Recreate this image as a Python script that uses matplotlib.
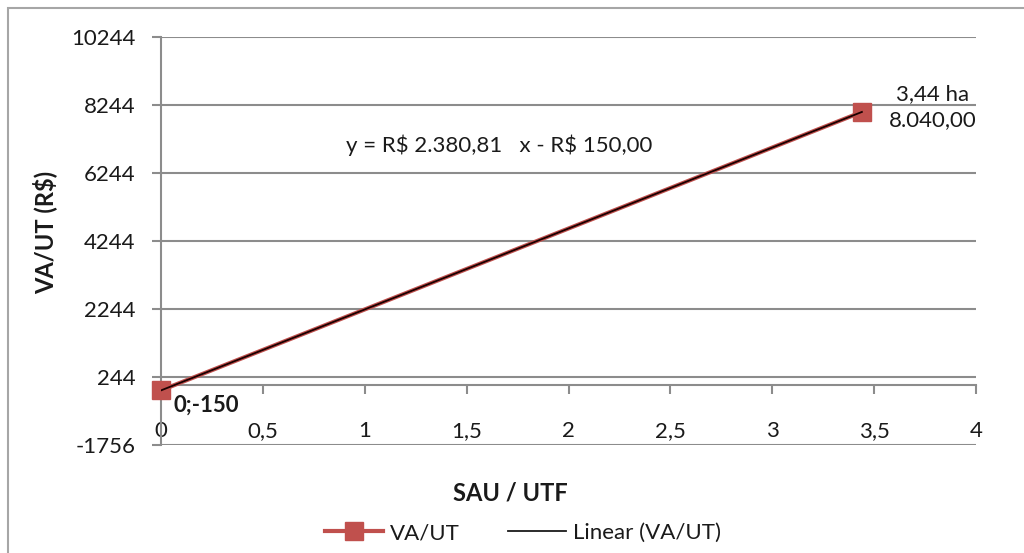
import matplotlib
matplotlib.use("Agg")
import matplotlib.pyplot as plt
from matplotlib.patches import Rectangle
from matplotlib.lines import Line2D
import numpy as np

plt.rcParams['font.family'] = ['Lato', 'DejaVu Sans']

# Data: value added per work unit vs. usable area per family work unit
sau_utf = [0.0, 3.44]
va_ut = [-150.0, 8040.0]
point_labels = ["0;-150", "3,44 ha\n8.040,00"]

# Linear trend fitted to the series
slope = 2380.81
intercept = -150.00

x_ticks = [0, 0.5, 1, 1.5, 2, 2.5, 3, 3.5, 4]
x_tick_labels = ["0", "0,5", "1", "1,5", "2", "2,5", "3", "3,5", "4"]
y_ticks = [-1756, 244, 2244, 4244, 6244, 8244, 10244]

def br(v, decimals=2):
    s = f"{v:,.{decimals}f}"
    return s.replace(",", "X").replace(".", ",").replace("X", ".")

W, H = 1024, 553
fig = plt.figure(figsize=(W / 100, H / 100), dpi=100)

# chart-area frame
fig.patches.append(Rectangle((8 / W, -0.2), 1.2, 1 - 8 / H + 0.2,
                             transform=fig.transFigure, fill=False,
                             edgecolor="#a6a6a6", linewidth=1.5))

ax = fig.add_axes([161 / W, 1 - 445 / H, 815 / W, 408 / H])
ax.set_xlim(0, 4)
ax.set_ylim(-1756, 10244)

grid_c = "#8c8c8c"
ax.set_yticks(y_ticks)
ax.set_yticklabels([str(v) for v in y_ticks])
ax.set_xticks(x_ticks)
ax.set_xticklabels(x_tick_labels)
ax.yaxis.grid(True, color=grid_c, linewidth=1.5)
ax.set_axisbelow(True)

for s in ["top", "right"]:
    ax.spines[s].set_visible(False)
ax.spines["left"].set_color(grid_c)
ax.spines["left"].set_linewidth(1.5)
ax.spines["bottom"].set_position(("data", 0))
ax.spines["bottom"].set_color(grid_c)
ax.spines["bottom"].set_linewidth(1.5)

ax.tick_params(axis="y", direction="out", length=6.5, width=1.5, color=grid_c,
               labelsize=16, pad=12, labelcolor="#1a1a1a")
ax.tick_params(axis="x", direction="out", length=6.5, width=1.5, color=grid_c,
               labelsize=16, pad=19, labelcolor="#1a1a1a")

# series
series_c = "#c0504d"
ax.plot(sau_utf, va_ut, color=series_c, linewidth=3, marker="s",
        markersize=13, markerfacecolor=series_c, markeredgecolor=series_c,
        zorder=3, clip_on=False)

# trend line
xt = np.array([sau_utf[0], sau_utf[-1]])
ax.plot(xt, slope * xt + intercept, color="#1a0000", linewidth=1.3, zorder=4)

# point labels
ax.annotate(point_labels[0], (sau_utf[0], va_ut[0]), xytext=(12, -15),
            textcoords="offset pixels", ha="left", va="center",
            fontsize=16, fontweight="bold", color="#1a1a1a")
ax.annotate(point_labels[1], (sau_utf[1], va_ut[1]), xytext=(71, 5),
            textcoords="offset pixels", ha="center", va="center",
            fontsize=16, color="#1a1a1a", linespacing=1.35)

# trend equation
ax.text(346 / W, 1 - 145 / H,
        f"y = R\\$ {br(slope)}   x - R\\$ {br(abs(intercept))}",
        transform=fig.transFigure, ha="left", va="center",
        fontsize=16, color="#1a1a1a")

fig.text(45 / W, 1 - 232 / H, "VA/UT (R\\$)", rotation=90, ha="center",
         va="center", fontsize=17, fontweight="bold", color="#1a1a1a")
fig.text(510 / W, 1 - 493 / H, "SAU / UTF", ha="center", va="center",
         fontsize=17, fontweight="bold", color="#1a1a1a")

handles = [
    Line2D([], [], color=series_c, linewidth=3, marker="s", markersize=13,
           markerfacecolor=series_c, markeredgecolor=series_c),
    Line2D([], [], color="#1a1a1a", linewidth=1.3),
]
fig.legend(handles, ["VA/UT", "Linear (VA/UT)"], loc="center",
           bbox_to_anchor=(523 / W, 1 - 533 / H), ncol=2, frameon=False,
           fontsize=16, handlelength=2.6, handletextpad=0.3,
           columnspacing=2.2, labelcolor="#1a1a1a")

fig.savefig("out.png", dpi=100)
